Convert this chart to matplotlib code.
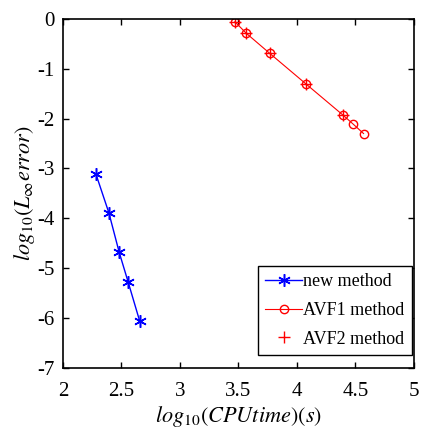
import matplotlib
matplotlib.use("Agg")
import matplotlib.pyplot as plt

plt.rcParams['font.family'] = ['Liberation Serif', 'DejaVu Serif']
plt.rcParams['mathtext.fontset'] = 'stix'

# log10 of CPU time and error
new_t = [2.282, 2.393, 2.481, 2.558, 2.655]
new_err = [-3.11, -3.89, -4.68, -5.28, -6.05]

avf1_t = [3.47, 3.567, 3.766, 4.074, 4.393, 4.475, 4.569]
avf1_err = [-0.06, -0.29, -0.69, -1.30, -1.93, -2.10, -2.30]

avf2_t = [3.47, 3.567, 3.766, 4.074, 4.393]
avf2_err = [-0.06, -0.29, -0.69, -1.30, -1.93]

xticks = [2, 2.5, 3, 3.5, 4, 4.5, 5]
xticklabels = ['2', '2.5', '3', '3.5', '4', '4.5', '5']
yticks = [0, -1, -2, -3, -4, -5, -6, -7]

fig = plt.figure(figsize=(4.22, 4.37), dpi=100)
ax = fig.add_axes([0.149, 0.158, 0.832, 0.799])

ax.plot(new_t, new_err, color='b', marker=(6, 2, 0), markersize=9,
        markeredgewidth=1.1, linewidth=1, label='new method')
ax.plot(avf1_t, avf1_err, color='r', marker='o', markersize=6,
        markerfacecolor='none', linewidth=0.8, label='AVF1 method')
ax.plot(avf2_t, avf2_err, color='r', marker='+', markersize=8,
        linestyle='none', label='AVF2 method')

ax.set_xlim(2, 5)
ax.set_ylim(-7, 0)
ax.set_xticks(xticks)
ax.set_xticklabels(xticklabels)
ax.set_yticks(yticks)
ax.set_yticklabels([str(v) for v in yticks])
ax.tick_params(direction='in', top=True, right=True, labelsize=15, length=4,
               width=1)
ax.tick_params(axis='x', pad=10)
ax.tick_params(axis='y', pad=6)
for s in ax.spines.values():
    s.set_linewidth(1.2)

ax.set_xlabel(r'$log_{10}(CPUtime)(s)$', fontsize=16, labelpad=2)
ax.set_ylabel(r'$log_{10}(L_{\infty}error)$', fontsize=16, labelpad=0)

leg = ax.legend(loc='lower right', bbox_to_anchor=(0.994, 0.037),
                fontsize=13, fancybox=False, edgecolor='black', framealpha=1,
                handlelength=2.0, handletextpad=0.1, borderpad=0.4,
                labelspacing=0.65, borderaxespad=0)
leg.get_frame().set_linewidth(1.0)

fig.savefig('out.png', dpi=100)
